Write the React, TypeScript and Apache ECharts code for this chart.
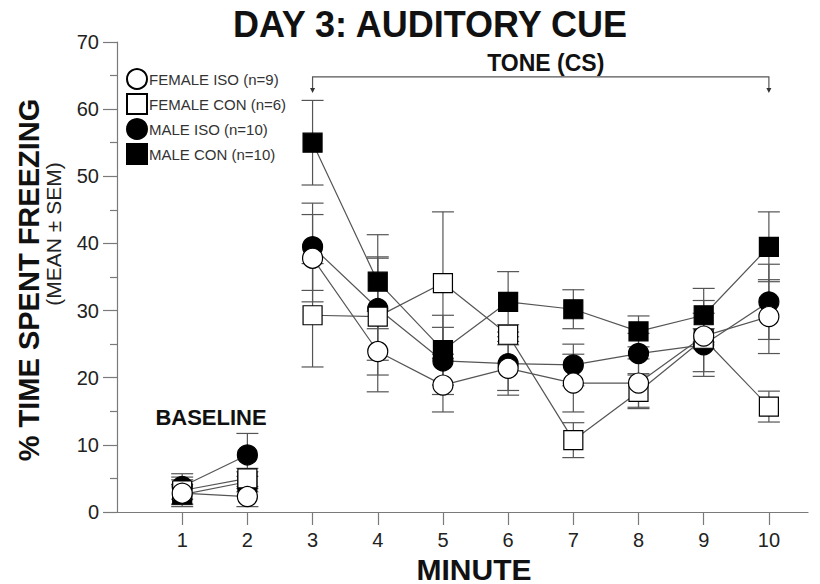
import React, { useEffect, useRef } from "react";
import * as echarts from "echarts";

// Minutes of the session; minutes 1-2 are baseline, tone runs from minute 3 to 10.
const minutes = [1, 2, 3, 4, 5, 6, 7, 8, 9, 10];
const toneStart = 3;
const toneEnd = 10;
const xTickValues = [1, 2, 3, 4, 5, 6, 7, 8, 9, 10];

const groupNames = [
  "FEMALE ISO (n=9)",
  "FEMALE CON (n=6)",
  "MALE ISO (n=10)",
  "MALE CON (n=10)",
];

// % time spent freezing, mean and SEM per minute
const femaleIsoMean = [2.8, 2.3, 37.8, 23.9, 18.9, 21.4, 19.2, 19.2, 26.2, 29.1];
const femaleIsoSem = [2.0, 1.5, 6.5, 6.0, 4.0, 4.0, 4.3, 3.6, 5.3, 5.5];
const femaleConMean = [3.2, 5.0, 29.3, 29.1, 34.1, 26.4, 10.7, 17.9, 25.8, 15.7];
const femaleConSem = [2.0, 1.5, 7.7, 8.7, 10.6, 1.5, 2.6, 2.5, 1.5, 2.3];
const maleIsoMean = [3.8, 8.5, 39.5, 30.3, 22.5, 22.1, 21.9, 23.6, 24.9, 31.3];
const maleIsoSem = [1.9, 3.2, 6.5, 7.7, 5.0, 4.0, 3.1, 3.0, 4.7, 5.6];
const maleConMean = [2.6, 4.5, 55.0, 34.3, 24.1, 31.3, 30.2, 26.9, 29.3, 39.5];
const maleConSem = [1.5, 1.5, 6.3, 7.0, 5.2, 4.5, 2.9, 2.3, 4.0, 5.2];

const FONT = "'Liberation Sans', Arial, Helvetica, sans-serif";
const AXIS_GREY = "#7a7a7a";
const LINE_GREY = "#555";

type Group = {
  name: string;
  mean: number[];
  sem: number[];
  symbol: string;
  size: number;
  fill: string;
};

const groups: Group[] = [
  { name: groupNames[3], mean: maleConMean, sem: maleConSem, symbol: "rect", size: 19, fill: "#000" },
  { name: groupNames[2], mean: maleIsoMean, sem: maleIsoSem, symbol: "circle", size: 20, fill: "#000" },
  { name: groupNames[1], mean: femaleConMean, sem: femaleConSem, symbol: "rect", size: 19, fill: "#fff" },
  { name: groupNames[0], mean: femaleIsoMean, sem: femaleIsoSem, symbol: "circle", size: 20, fill: "#fff" },
];

function lineData(mean: number[]) {
  const out: (number | string)[][] = [];
  minutes.forEach((m, i) => {
    // break the line between the baseline block and the tone block
    if (m === toneStart) out.push([m - 0.5, "-"]);
    out.push([m, mean[i]]);
  });
  return out;
}

function errorSeries(g: Group) {
  return {
    type: "custom",
    name: g.name + " sem",
    silent: true,
    z: 1,
    data: minutes.map((m, i) => [m, g.mean[i] - g.sem[i], g.mean[i] + g.sem[i]]),
    encode: { x: 0, y: [1, 2] },
    renderItem: (_params: any, api: any) => {
      const lo = api.coord([api.value(0), api.value(1)]);
      const hi = api.coord([api.value(0), api.value(2)]);
      const w = 11;
      const style = { stroke: LINE_GREY, lineWidth: 1.2, fill: "none" };
      return {
        type: "group",
        children: [
          { type: "line", shape: { x1: lo[0], y1: lo[1], x2: hi[0], y2: hi[1] }, style },
          { type: "line", shape: { x1: lo[0] - w, y1: lo[1], x2: lo[0] + w, y2: lo[1] }, style },
          { type: "line", shape: { x1: hi[0] - w, y1: hi[1], x2: hi[0] + w, y2: hi[1] }, style },
        ],
      };
    },
  };
}

function meanSeries(g: Group) {
  return {
    type: "line",
    name: g.name,
    z: 3,
    data: lineData(g.mean),
    connectNulls: false,
    symbol: g.symbol,
    symbolSize: g.size,
    showAllSymbol: true,
    lineStyle: { color: LINE_GREY, width: 1.2 },
    itemStyle: { color: g.fill, borderColor: "#000", borderWidth: 1.2 },
    emphasis: { disabled: true },
  };
}

export default function App() {
  const ref = useRef<HTMLDivElement>(null);

  useEffect(() => {
    if (!ref.current) return;
    const chart = echarts.init(ref.current, null, { renderer: "svg" });

    const legendOrder = [groupNames[0], groupNames[1], groupNames[2], groupNames[3]];
    const iconFor = (n: string) => groups.find((x) => x.name === n)!.symbol;

    chart.setOption({
      animation: false,
      backgroundColor: "#fff",
      grid: { left: 117, right: 12, top: 42, bottom: 72, containLabel: false },
      legend: {
        orient: "vertical",
        left: 121,
        top: 63,
        itemWidth: 20,
        itemHeight: 20,
        itemGap: 3,
        selectedMode: false,
        data: legendOrder.map((n) => ({ name: n, icon: iconFor(n) })),
        textStyle: { fontFamily: FONT, fontSize: 15, color: "#333", padding: [0, 0, 0, -3] },
      },
      xAxis: {
        type: "value",
        min: 0,
        max: 10.6,
        interval: 1,
        splitLine: { show: false },
        axisLine: { show: true, lineStyle: { color: AXIS_GREY, width: 1.2 } },
        axisTick: {
          show: true,
          length: 13,
          customValues: xTickValues,
          lineStyle: { color: AXIS_GREY, width: 1.2 },
        },
        axisLabel: {
          customValues: xTickValues,
          margin: 18,
          fontFamily: FONT,
          fontSize: 20,
          color: "#222",
        },
      },
      yAxis: {
        type: "value",
        min: 0,
        max: 70,
        interval: 10,
        splitLine: { show: false },
        axisLine: { show: true, lineStyle: { color: AXIS_GREY, width: 1.2 } },
        axisTick: { show: true, length: 14, lineStyle: { color: AXIS_GREY, width: 1.2 } },
        minorTick: { show: true, splitNumber: 2, length: 7, lineStyle: { color: AXIS_GREY, width: 1.2 } },
        axisLabel: { margin: 18, fontFamily: FONT, fontSize: 20, color: "#222" },
      },
      series: [...groups.map(errorSeries), ...groups.map(meanSeries)],
    });

    // Annotations placed from the axis scales
    const px = (x: number, y: number) =>
      chart.convertToPixel({ xAxisIndex: 0, yAxisIndex: 0 }, [x, y]) as number[];
    const bracketTop = px(toneStart, 64.8)[1];
    const arrowTip = px(toneStart, 62.4)[1];
    const xs = px(toneStart, 0)[0];
    const xe = px(toneEnd, 0)[0];
    const arrow = (x: number) => ({
      type: "polygon",
      shape: { points: [[x - 2.5, arrowTip - 5], [x + 2.5, arrowTip - 5], [x, arrowTip]] },
      style: { fill: "#333" },
      silent: true,
    });

    chart.setOption({
      graphic: [
        {
          type: "text",
          x: 430,
          y: 24,
          style: {
            text: "DAY 3: AUDITORY CUE",
            font: `bold 36px ${FONT}`,
            fill: "#111",
            align: "center",
            verticalAlign: "middle",
          },
        },
        {
          type: "text",
          x: (xs + xe) / 2 + 5,
          y: 63,
          style: {
            text: "TONE (CS)",
            font: `bold 23px ${FONT}`,
            fill: "#111",
            align: "center",
            verticalAlign: "middle",
          },
        },
        {
          type: "polyline",
          shape: { points: [[xs, arrowTip - 4], [xs, bracketTop], [xe, bracketTop], [xe, arrowTip - 4]] },
          style: { stroke: LINE_GREY, lineWidth: 1.2, fill: "none" },
          silent: true,
        },
        arrow(xs),
        arrow(xe),
        {
          type: "text",
          x: 211,
          y: 417,
          style: {
            text: "BASELINE",
            font: `bold 22px ${FONT}`,
            fill: "#111",
            align: "center",
            verticalAlign: "middle",
          },
        },
        {
          type: "text",
          x: 474,
          y: 569,
          style: {
            text: "MINUTE",
            font: `bold 30px ${FONT}`,
            fill: "#111",
            align: "center",
            verticalAlign: "middle",
          },
        },
        {
          type: "text",
          x: 29,
          y: 280,
          rotation: Math.PI / 2,
          style: {
            text: "% TIME SPENT FREEZING",
            font: `bold 29px ${FONT}`,
            fill: "#111",
            align: "center",
            verticalAlign: "middle",
          },
        },
        {
          type: "text",
          x: 53,
          y: 234,
          rotation: Math.PI / 2,
          style: {
            text: "(MEAN ± SEM)",
            font: `21px ${FONT}`,
            fill: "#222",
            align: "center",
            verticalAlign: "middle",
          },
        },
      ],
    });

    return () => chart.dispose();
  }, []);

  return (
    <div
      ref={ref}
      style={{ position: "fixed", left: 0, top: 0, width: 820, height: 584, background: "#fff" }}
    />
  );
}
